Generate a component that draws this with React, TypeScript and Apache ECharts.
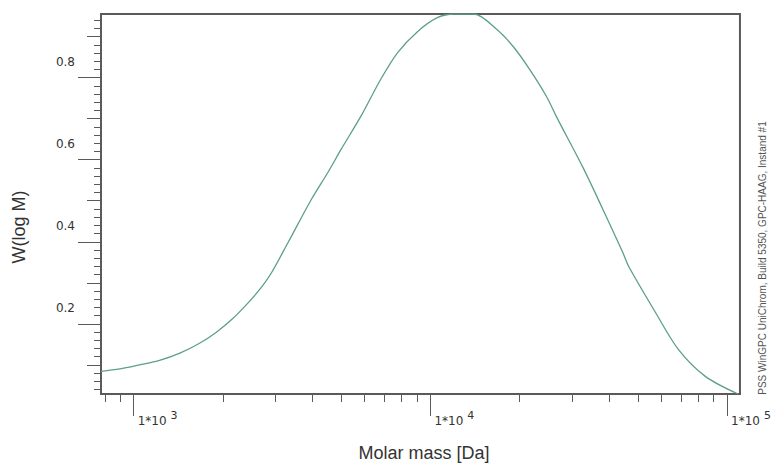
import React, { useEffect, useRef } from "react";
import * as echarts from "echarts";

const molarMass = [
  776, 898, 1047, 1222, 1425, 1662, 1895, 2144, 2443, 2701, 2917, 3324, 3969,
  4523, 5000, 5834, 6804, 7755, 9046, 10554, 12032, 14035, 16758, 19098, 21600,
  24620, 26590, 32734, 38190, 44560, 46660, 57440, 68590, 84420, 108850,
];
const wLogM = [
  0.084, 0.09, 0.1, 0.111, 0.128, 0.152, 0.179, 0.211, 0.253, 0.29, 0.325,
  0.4, 0.503, 0.57, 0.625, 0.706, 0.796, 0.861, 0.912, 0.946, 0.955, 0.955,
  0.917, 0.874, 0.82, 0.754, 0.705, 0.58, 0.478, 0.373, 0.339, 0.227, 0.137,
  0.072, 0.029,
];

const xMajorTicks = [1000, 10000, 100000];
const xMinorTicks = [
  800, 900, 2000, 3000, 4000, 5000, 6000, 7000, 8000, 9000, 20000, 30000,
  40000, 50000, 60000, 70000, 80000, 90000,
];
const yLabelTicks = [0.2, 0.4, 0.6, 0.8];
const yMediumTicks = [0.1, 0.3, 0.5, 0.7, 0.9];
const yMinorTicks = [
  0.04, 0.06, 0.08, 0.12, 0.14, 0.16, 0.18, 0.22, 0.24, 0.26, 0.28, 0.32, 0.34,
  0.36, 0.38, 0.42, 0.44, 0.46, 0.48, 0.52, 0.54, 0.56, 0.58, 0.62, 0.64, 0.66,
  0.68, 0.72, 0.74, 0.76, 0.78, 0.82, 0.84, 0.86, 0.88, 0.92, 0.94,
];

const X_MIN = 776;
const X_MAX = 110500;
const Y_MIN = 0.029;
const Y_MAX = 0.955;

const AXIS_COLOR = "#5a5a5a";
const TICK_FONT = "DejaVu Sans";

export default function App() {
  const ref = useRef<HTMLDivElement>(null);

  useEffect(() => {
    if (!ref.current) return;
    const chart = echarts.init(ref.current, undefined, { renderer: "svg" });

    const baseX = {
      type: "log" as const,
      logBase: 10,
      min: X_MIN,
      max: X_MAX,
      position: "bottom" as const,
      splitLine: { show: false },
    };
    const baseY = {
      type: "value" as const,
      min: Y_MIN,
      max: Y_MAX,
      position: "left" as const,
      splitLine: { show: false },
    };

    chart.setOption({
      animation: false,
      backgroundColor: "#ffffff",
      grid: {
        left: 101,
        top: 14,
        right: 29,
        bottom: 70,
        show: true,
        borderColor: AXIS_COLOR,
        borderWidth: 2,
        backgroundColor: "transparent",
      },
      xAxis: [
        {
          ...baseX,
          axisLine: { show: true, lineStyle: { color: AXIS_COLOR, width: 2 } },
          axisTick: {
            show: true,
            customValues: xMajorTicks,
            length: 22,
            lineStyle: { color: AXIS_COLOR, width: 1 },
          },
          axisLabel: {
            show: true,
            customValues: xMajorTicks,
            align: "left",
            verticalAlign: "top",
            margin: 16,
            padding: [0, 0, 0, 4],
            color: "#333",
            formatter: (v: number) =>
              `{a|1*10}{s|${Math.round(Math.log10(v))}}`,
            rich: {
              a: { fontFamily: TICK_FONT, fontSize: 12, color: "#333" },
              s: {
                fontFamily: TICK_FONT,
                fontSize: 11,
                color: "#333",
                padding: [0, 0, 11, 4],
              },
            },
          },
        },
        {
          ...baseX,
          axisLine: { show: false },
          axisTick: {
            show: true,
            customValues: xMinorTicks,
            length: 8,
            lineStyle: { color: AXIS_COLOR, width: 1 },
          },
          axisLabel: { show: false },
        },
      ],
      yAxis: [
        {
          ...baseY,
          axisLine: { show: true, lineStyle: { color: AXIS_COLOR, width: 2 } },
          axisTick: {
            show: true,
            customValues: yLabelTicks,
            length: 23,
            lineStyle: { color: AXIS_COLOR, width: 1 },
          },
          axisLabel: {
            show: true,
            customValues: yLabelTicks,
            fontFamily: TICK_FONT,
            fontSize: 12,
            color: "#333",
            margin: 26,
            verticalAlign: "bottom",
            padding: [0, 0, 10, 0],
            formatter: (v: number) => v.toFixed(1),
          },
        },
        {
          ...baseY,
          axisLine: { show: false },
          axisTick: {
            show: true,
            customValues: yMediumTicks,
            length: 14,
            lineStyle: { color: AXIS_COLOR, width: 1 },
          },
          axisLabel: { show: false },
        },
        {
          ...baseY,
          axisLine: { show: false },
          axisTick: {
            show: true,
            customValues: yMinorTicks,
            length: 7,
            lineStyle: { color: AXIS_COLOR, width: 1 },
          },
          axisLabel: { show: false },
        },
      ],
      series: [
        {
          type: "line",
          xAxisIndex: 0,
          yAxisIndex: 0,
          data: molarMass.map((m, i) => [m, wLogM[i]]),
          showSymbol: false,
          smooth: 0.3,
          clip: true,
          lineStyle: { color: "#5d9f88", width: 1.3 },
        },
      ],
      graphic: [
        {
          type: "text",
          x: 19,
          y: 227,
          rotation: Math.PI / 2,
          style: {
            text: "W(log M)",
            fontFamily: "Liberation Sans",
            fontSize: 18,
            fill: "#333",
            align: "center",
            verticalAlign: "middle",
          },
        },
        {
          type: "text",
          x: 424,
          y: 453,
          style: {
            text: "Molar mass [Da]",
            fontFamily: "Liberation Sans",
            fontSize: 18,
            fill: "#333",
            align: "center",
            verticalAlign: "middle",
          },
        },
        {
          type: "text",
          x: 762,
          y: 258,
          rotation: Math.PI / 2,
          style: {
            text: "PSS WinGPC UniChrom, Build 5350, GPC-HAAG, Instand #1",
            fontFamily: "Liberation Sans",
            fontSize: 10,
            fill: "#555",
            align: "center",
            verticalAlign: "middle",
          },
        },
      ],
    });

    return () => chart.dispose();
  }, []);

  return (
    <div
      ref={ref}
      style={{ position: "fixed", left: 0, top: 0, width: 774, height: 464 }}
    />
  );
}
